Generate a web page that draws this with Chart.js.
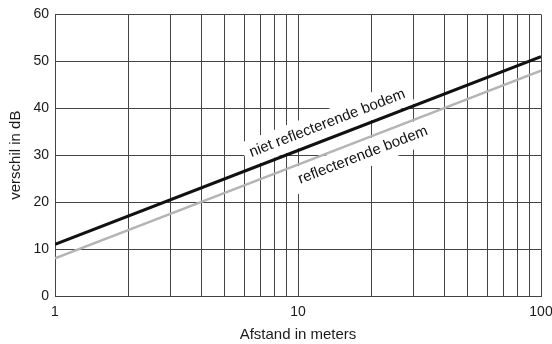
<!DOCTYPE html>
<html>
<head>
<meta charset="utf-8">
<script src="https://cdn.jsdelivr.net/npm/chart.js@4.4.0/dist/chart.umd.min.js"></script>
<style>
  html, body { margin: 0; padding: 0; background: #fff; }
  #wrap { width: 552px; height: 344px; }
</style>
</head>
<body>
<div id="wrap"><canvas id="chart"></canvas></div>
<script>
'use strict';

// values
const distances = [1, 10, 100];
const nietReflecterend = [11, 31, 51];
const reflecterend = [8, 28, 48];

const xGrid = [1, 2, 3, 4, 5, 6, 7, 8, 9, 10, 20, 30, 40, 50, 60, 70, 80, 90, 100];
const xTickLabels = [1, 10, 100];
const yTicks = [0, 10, 20, 30, 40, 50, 60];

// text along the lines: [text, x, y] in data units
const lineLabels = [
  ['niet reflecterende bodem', 13.2, 36.8],
  ['reflecterende bodem', 18.5, 30.0]
];

const FONT = 'Liberation Sans, Arial, sans-serif';

const toPoints = (xs, ys) => xs.map((x, i) => ({ x: x, y: ys[i] }));

function eachLabel(chart, fn) {
  const { ctx, scales: { x, y } } = chart;
  const dx = x.getPixelForValue(100) - x.getPixelForValue(1);
  const dy = y.getPixelForValue(nietReflecterend[2]) - y.getPixelForValue(nietReflecterend[0]);
  const angle = Math.atan2(dy, dx);
  ctx.save();
  ctx.font = '15px ' + FONT;
  ctx.textAlign = 'center';
  ctx.textBaseline = 'middle';
  lineLabels.forEach(([t, vx, vy]) => {
    ctx.save();
    ctx.translate(x.getPixelForValue(vx), y.getPixelForValue(vy));
    ctx.rotate(angle);
    fn(ctx, t);
    ctx.restore();
  });
  ctx.restore();
}

// white box behind the labels hides the grid there, like in the scan
const lineText = {
  id: 'lineText',
  beforeDatasetsDraw(chart) {
    eachLabel(chart, (ctx, t) => {
      const w = ctx.measureText(t).width;
      ctx.fillStyle = '#fff';
      ctx.fillRect(-w / 2 - 6, -13, w + 12, 26);
    });
  },
  afterDatasetsDraw(chart) {
    eachLabel(chart, (ctx, t) => {
      ctx.fillStyle = '#111';
      ctx.fillText(t, 0, 0);
    });
  }
};

new Chart(document.querySelector('#chart'), {
  type: 'line',
  data: {
    datasets: [
      {
        label: 'niet reflecterende bodem',
        data: toPoints(distances, nietReflecterend),
        borderColor: '#111',
        borderWidth: 3,
        pointRadius: 0,
        tension: 0
      },
      {
        label: 'reflecterende bodem',
        data: toPoints(distances, reflecterend),
        borderColor: '#b4b4b4',
        borderWidth: 2.5,
        pointRadius: 0,
        tension: 0
      }
    ]
  },
  options: {
    responsive: true,
    maintainAspectRatio: false,
    animation: false,
    layout: { padding: { top: 13, right: 11, left: 0, bottom: 0 } },
    plugins: {
      legend: { display: false },
      tooltip: { enabled: false }
    },
    scales: {
      x: {
        type: 'logarithmic',
        min: 1,
        max: 100,
        afterBuildTicks: (scale) => { scale.ticks = xGrid.map(v => ({ value: v })); },
        afterFit: (scale) => {
          scale.height = 48;
          scale.paddingLeft = 0;
          scale.paddingRight = 0;
        },
        grid: { color: '#444', lineWidth: 1, drawTicks: false },
        border: { color: '#444', width: 1 },
        ticks: {
          autoSkip: false,
          maxRotation: 0,
          padding: 8,
          color: '#1a1a1a',
          font: { family: FONT, size: 14 },
          callback: (v) => xTickLabels.includes(v) ? String(v) : ''
        },
        title: {
          display: true,
          text: 'Afstand in meters',
          color: '#1a1a1a',
          font: { family: FONT, size: 15 },
          padding: { top: 2, bottom: 0 }
        }
      },
      y: {
        min: 0,
        max: 60,
        afterBuildTicks: (scale) => { scale.ticks = yTicks.map(v => ({ value: v })); },
        afterFit: (scale) => { scale.width = 55; },
        grid: { color: '#444', lineWidth: 1, drawTicks: false },
        border: { color: '#444', width: 1 },
        ticks: {
          padding: 6,
          color: '#1a1a1a',
          font: { family: FONT, size: 14 }
        },
        title: {
          display: true,
          text: 'verschil in dB',
          color: '#1a1a1a',
          font: { family: FONT, size: 15 },
          padding: { top: 7, bottom: 0 }
        }
      }
    }
  },
  plugins: [lineText]
});
</script>
</body>
</html>
